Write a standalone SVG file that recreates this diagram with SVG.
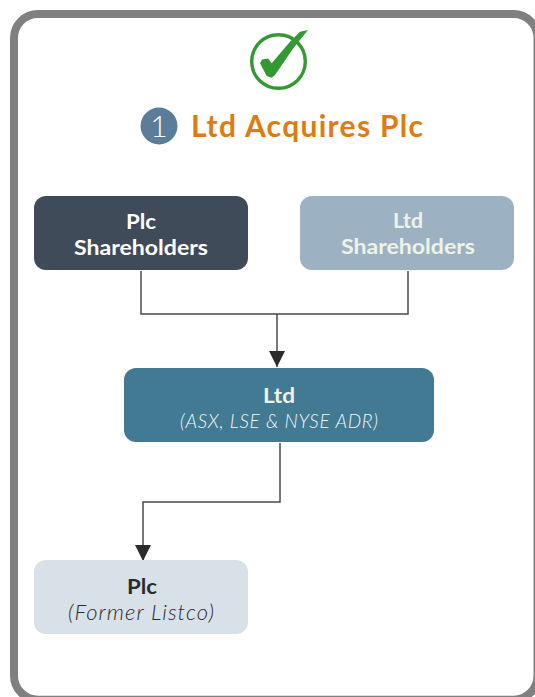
<svg xmlns="http://www.w3.org/2000/svg" width="535" height="697" viewBox="0 0 535 697">
<style>
text{font-family:"Lato","Liberation Sans",sans-serif;text-anchor:middle}
.b{font-weight:700;font-size:21px}
.i{font-style:italic;font-weight:300;font-size:22px}
.c{fill:none;stroke:#4a4a4a;stroke-width:1.5}
</style>
<defs><marker id="arr" markerUnits="userSpaceOnUse" markerWidth="16" markerHeight="16" refX="16" refY="8" orient="auto"><path d="M0 0L16 8L0 16Z" fill="#2b2b2b"/></marker></defs>
<rect width="535" height="697" fill="#fff"/>
<rect x="14" y="14" width="523.5" height="685.7" rx="24" fill="#fff" stroke="#808080" stroke-width="8"/>
<g id="check">
<circle cx="278.5" cy="61.5" r="26.8" fill="none" stroke="#339933" stroke-width="3.4"/>
<path d="M308 30L300 31.7L290 41.7L271.7 63.3L268 58.5L262 59.5L260 63.3L266.7 76L271.7 77.7L275 75L293.3 48.3Z" fill="#339933"/>
</g>
<g id="title">
<circle cx="159" cy="126" r="18.5" fill="#5b7d99"/>
<text x="159" y="137" font-size="30" fill="#fff" font-weight="300">1</text>
<text x="307" y="137" font-size="30" font-weight="700" fill="#e07b10" textLength="232">Ltd Acquires Plc</text>
</g>
<g id="connectors">
<path class="c" d="M141 271V314H408V271"/>
<path class="c" d="M277 314V367" marker-end="url(#arr)"/>
<path class="c" d="M280 443V502H143V561" marker-end="url(#arr)"/>
</g>
<g id="plc-shareholders">
<rect x="34" y="196" width="214" height="74" rx="12" fill="#3f4b58"/>
<text class="b" x="141" y="229" fill="#fff" textLength="30" lengthAdjust="spacingAndGlyphs">Plc</text>
<text class="b" x="141" y="255" fill="#fff" textLength="134" lengthAdjust="spacingAndGlyphs">Shareholders</text>
</g>
<g id="ltd-shareholders">
<rect x="300" y="196" width="214" height="74" rx="12" fill="#9cb2c2"/>
<text class="b" x="408" y="228" fill="#eef2e8" textLength="30" lengthAdjust="spacingAndGlyphs">Ltd</text>
<text class="b" x="408" y="254" fill="#eef2e8" textLength="134" lengthAdjust="spacingAndGlyphs">Shareholders</text>
</g>
<g id="ltd">
<rect x="124" y="368" width="310" height="74" rx="12" fill="#417a92"/>
<text class="b" x="279" y="403" fill="#eef2e8" textLength="32" lengthAdjust="spacingAndGlyphs">Ltd</text>
<text class="i" x="279" y="428" fill="#f2f6f6" style="font-size:19px" textLength="198">(ASX, LSE &amp; NYSE ADR)</text>
</g>
<g id="plc">
<rect x="34" y="560" width="214" height="74" rx="12" fill="#d8e0e8"/>
<text class="b" x="142" y="594" fill="#2b2b2b" textLength="30" lengthAdjust="spacingAndGlyphs">Plc</text>
<text class="i" x="141" y="620" fill="#2b2b2b" textLength="146">(Former Listco)</text>
</g>
</svg>
